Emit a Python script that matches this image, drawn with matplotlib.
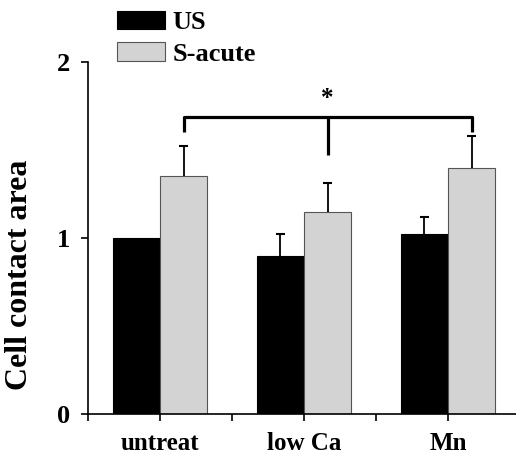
import matplotlib
matplotlib.use("Agg")
import matplotlib.pyplot as plt
import numpy as np

plt.rcParams['font.family'] = ['Liberation Serif', 'DejaVu Serif']
plt.rcParams['font.weight'] = 'bold'

groups = ["untreat", "low Ca", "Mn"]
us_vals = [1.00, 0.90, 1.02]
us_err = [0.0, 0.12, 0.10]
sa_vals = [1.35, 1.15, 1.40]
sa_err = [0.17, 0.16, 0.18]

fig = plt.figure(figsize=(5.16, 4.57), dpi=100)
ax = fig.add_axes([88/516, 43/457, 432/516, 352/457])

x = np.arange(len(groups))
w = 0.327
ax.bar(x - w/2, us_vals, w, color='black', edgecolor='black', linewidth=0.8, label='US')
ax.bar(x + w/2, sa_vals, w, color='#d3d3d3', edgecolor='#555555', linewidth=0.8, label='S-acute')

# only upper error bars with a top cap, skip zero ones
cap = 0.032
for xs, vals, errs in [(x - w/2, us_vals, us_err), (x + w/2, sa_vals, sa_err)]:
    for xi, v, e in zip(xs, vals, errs):
        if e > 0:
            ax.vlines(xi, v, v + e, color='black', lw=1.3)
            ax.hlines(v + e, xi - cap, xi + cap, color='black', lw=1.5)

# significance bracket
bx = x + w/2
ax.plot([bx[0], bx[0], bx[2], bx[2]], [1.60, 1.69, 1.69, 1.60], color='black', lw=2.3,
        solid_capstyle='butt')
ax.plot([bx[1], bx[1]], [1.69, 1.47], color='black', lw=2.3, solid_capstyle='butt')
ax.text(bx[1], 1.79, '*', ha='center', va='center', fontsize=18, fontweight='bold')

ax.set_xlim(-0.5, 2.5)
ax.set_ylim(0, 2)
ax.set_yticks([0, 1, 2])
ax.set_yticklabels(['0', '1', '2'], fontsize=19, fontweight='bold')
ax.set_xticks(x)
ax.set_xticklabels(groups, fontsize=18, fontweight='bold')
ax.set_xticks([-0.5, 0.5, 1.5, 2.5], minor=True)
ax.tick_params(axis='both', which='major', direction='out', length=5, width=1.2)
ax.tick_params(axis='x', which='minor', direction='out', length=5, width=1.2)
ax.tick_params(axis='x', pad=8)
ax.tick_params(axis='y', pad=8)
ax.spines['top'].set_visible(False)
ax.spines['right'].set_visible(False)
ax.spines['left'].set_linewidth(1.2)
ax.spines['bottom'].set_linewidth(1.2)
ax.set_ylabel('Cell contact area', fontsize=23, fontweight='bold')
ax.yaxis.set_label_coords(-54/432, 0.395)

leg = ax.legend(loc='upper left', bbox_to_anchor=(117/516, 1 - 11/457), bbox_transform=fig.transFigure,
                frameon=False, fontsize=19, handlelength=1.8, handleheight=0.7,
                handletextpad=0.3, labelspacing=0.3, borderpad=0, borderaxespad=0)
for t in leg.get_texts():
    t.set_fontweight('bold')

fig.savefig('out.png', dpi=100)
